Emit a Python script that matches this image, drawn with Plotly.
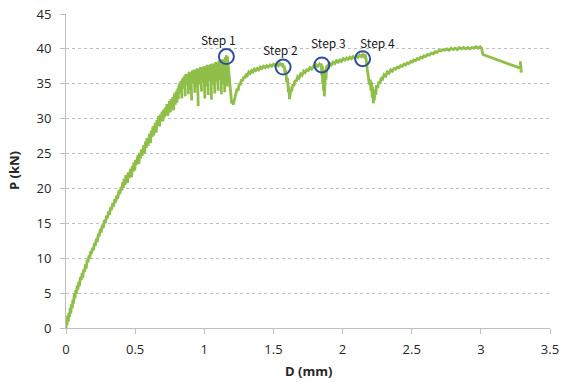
import plotly.graph_objects as go

# Load-displacement record, split into test stages: D in mm, P in kN
D_elastic = [
    0.000, 0.004, 0.007, 0.012, 0.016, 0.021, 0.026, 0.031, 0.035, 0.040, 0.045, 0.050, 0.054, 0.060, 0.064,
    0.070, 0.075, 0.081, 0.086, 0.092, 0.097, 0.104, 0.110, 0.117, 0.121, 0.128, 0.134, 0.141, 0.146, 0.153,
    0.159, 0.166, 0.171, 0.178, 0.184, 0.192, 0.198, 0.206, 0.212, 0.220, 0.226, 0.234, 0.240, 0.248, 0.254,
    0.263, 0.269, 0.278, 0.284, 0.293, 0.299, 0.308, 0.314, 0.323, 0.329, 0.338, 0.344, 0.353, 0.359, 0.368,
    0.374, 0.383, 0.389, 0.398, 0.404,
]
P_elastic = [
    0.0, 1.3, 0.4, 1.8, 0.9, 2.2, 1.6, 2.9, 2.1, 3.4, 2.8, 4.1, 3.5, 4.9, 4.2,
    5.4, 4.9, 6.1, 5.5, 6.6, 6.0, 7.3, 6.9, 7.9, 7.2, 8.4, 8.0, 9.1, 8.5, 9.8,
    9.4, 10.4, 9.9, 11.0, 10.6, 11.5, 11.1, 12.2, 11.8, 12.8, 12.3, 13.5, 13.1, 14.2, 13.7,
    14.8, 14.3, 15.5, 15.0, 16.1, 15.7, 16.7, 16.2, 17.3, 16.9, 17.9, 17.4, 18.5, 18.0, 19.0,
    18.5, 19.7, 19.2, 20.2, 19.7,
]

D_rise = [
    0.410, 0.415, 0.421, 0.428, 0.433, 0.437, 0.444, 0.450, 0.456, 0.461, 0.467, 0.474, 0.479, 0.486, 0.490,
    0.497, 0.503, 0.509, 0.514, 0.521, 0.527, 0.532, 0.539, 0.545, 0.550, 0.556, 0.563, 0.568, 0.575, 0.580,
    0.586, 0.593, 0.598, 0.604, 0.611, 0.616, 0.622, 0.629, 0.634, 0.640, 0.646, 0.652, 0.658, 0.664, 0.670,
    0.676, 0.682, 0.688, 0.694, 0.700, 0.706, 0.712, 0.718, 0.724, 0.730, 0.736, 0.742, 0.748, 0.754, 0.760,
    0.766, 0.772, 0.778, 0.784, 0.790, 0.796, 0.802,
]
P_rise = [
    20.9, 20.1, 21.4, 20.5, 21.9, 21.2, 20.8, 22.3, 21.5, 22.0, 22.8, 21.6, 23.2, 22.4, 23.7,
    22.6, 24.1, 23.4, 24.0, 24.8, 23.5, 25.1, 24.3, 25.6, 24.7, 25.3, 26.2, 25.0, 26.7, 25.8,
    27.2, 26.1, 27.0, 27.8, 26.5, 28.3, 27.4, 28.9, 27.6, 28.5, 29.4, 28.0, 29.8, 29.0, 30.4,
    28.9, 30.6, 29.7, 31.0, 29.6, 31.3, 30.2, 31.6, 30.5, 32.1, 30.4, 31.8, 32.5, 30.9, 32.8,
    31.5, 33.1, 31.2, 33.6, 32.0, 33.9, 32.3,
]

# Unstable zone up to Step 1 (load drops with slight rebound in D)
D_step1 = [
    0.808, 0.814, 0.811, 0.820, 0.826, 0.822, 0.832, 0.838, 0.834, 0.845, 0.850, 0.847, 0.857, 0.862, 0.858,
    0.868, 0.874, 0.870, 0.880, 0.885, 0.881, 0.892, 0.897, 0.893, 0.903, 0.909, 0.905, 0.915, 0.921, 0.917,
    0.927, 0.932, 0.928, 0.938, 0.944, 0.940, 0.950, 0.956, 0.952, 0.962, 0.968, 0.964, 0.974, 0.980, 0.976,
    0.986, 0.992, 0.988, 0.998, 1.004, 1.000, 1.010, 1.016, 1.012, 1.022, 1.028, 1.024, 1.034, 1.040, 1.036,
    1.046, 1.052, 1.048, 1.058, 1.064, 1.060, 1.070, 1.076, 1.072, 1.082, 1.088, 1.084, 1.094, 1.100, 1.096,
    1.106, 1.112, 1.108, 1.118, 1.124, 1.120, 1.130, 1.136, 1.132, 1.142, 1.148, 1.144, 1.152, 1.157, 1.154,
    1.160, 1.164, 1.161, 1.167, 1.170,
]
P_step1 = [
    34.3, 32.8, 33.9, 35.0, 33.6, 34.4, 35.4, 32.9, 34.8, 35.8, 34.3, 35.1, 36.1, 33.2, 35.5,
    36.4, 34.8, 35.6, 36.2, 33.5, 35.9, 36.7, 34.1, 36.0, 36.5, 32.6, 35.4, 36.9, 35.0, 36.3,
    37.0, 33.7, 36.1, 36.8, 34.5, 36.4, 37.2, 31.8, 35.6, 37.1, 34.9, 36.5, 37.4, 33.9, 36.8,
    37.3, 35.2, 36.6, 37.5, 32.9, 36.2, 37.4, 34.6, 36.9, 37.7, 33.4, 36.4, 37.6, 35.4, 37.0,
    37.8, 32.7, 36.1, 37.9, 34.8, 37.2, 37.7, 33.6, 36.7, 38.1, 35.3, 37.4, 38.0, 34.0, 37.0,
    38.3, 35.6, 37.5, 38.2, 33.5, 36.9, 38.5, 34.9, 37.7, 38.4, 33.8, 37.2, 38.8, 35.2, 38.0,
    39.1, 34.6, 38.2, 38.9, 38.3,
]

D_step2 = [
    1.178, 1.185, 1.192, 1.198, 1.204, 1.210, 1.215, 1.222,
    1.230, 1.238, 1.245, 1.252, 1.260, 1.268, 1.276, 1.285, 1.294, 1.303, 1.312, 1.322, 1.332, 1.342, 1.352,
    1.362, 1.372, 1.383, 1.394, 1.405, 1.416, 1.428, 1.440, 1.452, 1.464, 1.476, 1.488, 1.500, 1.512, 1.524,
    1.536, 1.548, 1.558, 1.566, 1.572, 1.578, 1.584, 1.590, 1.596, 1.602, 1.608, 1.612, 1.616, 1.620,
]
P_step2 = [
    36.0, 34.5, 33.2, 32.2, 32.6, 32.0, 32.5, 33.1,
    33.5, 34.3, 34.0, 35.0, 34.8, 35.6, 35.4, 36.0, 35.8, 36.4, 36.2, 36.7, 36.5, 36.9, 36.7,
    37.1, 36.9, 37.2, 37.0, 37.4, 37.2, 37.5, 37.3, 37.6, 37.4, 37.7, 37.5, 37.8, 37.6, 37.9,
    37.6, 37.9, 37.7, 37.9, 37.3, 37.6, 36.5, 37.0, 35.2, 35.8, 33.8, 34.6, 32.8, 33.6,
]

D_step3 = [
    1.626, 1.632, 1.640, 1.648, 1.656, 1.665, 1.675, 1.685, 1.696, 1.707, 1.718, 1.729, 1.740, 1.752, 1.764,
    1.776, 1.788, 1.800, 1.812, 1.822, 1.832, 1.840, 1.846,
    1.850, 1.853, 1.856, 1.859, 1.862, 1.865, 1.868, 1.871, 1.874, 1.877, 1.880, 1.884,
]
P_step3 = [
    34.2, 33.9, 34.9, 34.7, 35.5, 35.3, 36.0, 35.8, 36.4, 36.2, 36.8, 36.6, 37.0, 36.9, 37.3,
    37.1, 37.5, 37.3, 37.7, 37.5, 37.8, 37.6, 37.9,
    36.2, 37.6, 35.0, 37.2, 34.0, 36.8, 33.2, 36.0, 34.5, 37.0, 35.6, 37.4,
]

D_step4 = [
    1.892, 1.900, 1.910, 1.920, 1.932, 1.944, 1.956, 1.968, 1.980, 1.992, 2.004, 2.016, 2.028, 2.040, 2.052,
    2.064, 2.076, 2.088, 2.100, 2.112, 2.124, 2.136, 2.146, 2.156, 2.164, 2.170,
    2.178, 2.186, 2.194, 2.200, 2.205, 2.210, 2.214, 2.218, 2.222, 2.226, 2.230, 2.234, 2.240, 2.246,
]
P_step4 = [
    37.6, 37.4, 37.9, 37.7, 38.1, 37.9, 38.3, 38.1, 38.4, 38.2, 38.6, 38.4, 38.7, 38.5, 38.8,
    38.6, 38.9, 38.7, 39.0, 38.8, 39.1, 38.9, 39.2, 38.9, 39.2, 38.6,
    37.2, 35.8, 34.9, 35.6, 34.0, 35.2, 33.0, 34.6, 32.2, 33.8, 32.6, 34.2, 33.4, 34.8,
]

D_final = [
    2.254, 2.262, 2.270, 2.280, 2.290, 2.300, 2.312, 2.324, 2.336, 2.348, 2.360, 2.372, 2.384, 2.396, 2.408,
    2.420, 2.432, 2.444, 2.456, 2.468, 2.480, 2.492, 2.504, 2.516, 2.528, 2.540, 2.552, 2.564, 2.576, 2.588,
    2.600, 2.614, 2.628, 2.642, 2.656, 2.670, 2.684, 2.698, 2.712, 2.726, 2.740, 2.755, 2.770, 2.785, 2.800,
    2.815, 2.830, 2.845, 2.860, 2.875, 2.890, 2.905, 2.920, 2.935, 2.950, 2.965, 2.980, 2.995, 3.005, 3.015,
    3.290, 3.285, 3.292, 3.288, 3.295, 3.290,
]
P_final = [
    34.4, 35.3, 35.0, 35.9, 35.7, 36.3, 36.1, 36.7, 36.5, 37.0, 36.8, 37.2, 37.1, 37.4, 37.3,
    37.6, 37.5, 37.8, 37.7, 38.0, 37.9, 38.2, 38.1, 38.4, 38.3, 38.6, 38.5, 38.8, 38.7, 39.0,
    38.9, 39.2, 39.1, 39.4, 39.3, 39.6, 39.5, 39.8, 39.7, 39.9, 39.8, 40.0, 39.8, 40.1, 39.9,
    40.1, 39.9, 40.2, 40.0, 40.2, 40.0, 40.2, 40.0, 40.2, 40.1, 40.3, 40.1, 40.3, 40.1, 39.2,
    37.2, 38.2, 36.6, 37.8, 36.9, 37.4,
]

stages = [
    (D_elastic, P_elastic), (D_rise, P_rise), (D_step1, P_step1), (D_step2, P_step2),
    (D_step3, P_step3), (D_step4, P_step4), (D_final, P_final),
]
D_mm, P_kN = [], []
for d, p in stages:
    assert len(d) == len(p)
    D_mm += d
    P_kN += p

# Marked load steps
step_labels = ["Step 1", "Step 2", "Step 3", "Step 4"]
step_D = [1.16, 1.57, 1.85, 2.145]
step_P = [38.9, 37.4, 37.7, 38.6]
label_D = [1.10, 1.55, 1.90, 2.25]
label_P = [41.4, 39.9, 40.9, 40.9]

x_ticks = [0, 0.5, 1, 1.5, 2, 2.5, 3, 3.5]
y_ticks = [0, 5, 10, 15, 20, 25, 30, 35, 40, 45]

GREEN = "#8fbf48"
BLUE = "#2f4f99"
AXIS = "#bfbfbf"
TEXT = "#262626"

fig = go.Figure()

fig.add_trace(go.Scatter(
    x=D_mm, y=P_kN, mode="lines",
    line=dict(color=GREEN, width=2.8),
    showlegend=False, hoverinfo="skip",
))

fig.add_trace(go.Scatter(
    x=step_D, y=step_P, mode="markers",
    marker=dict(symbol="circle-open", size=15, color=BLUE, line=dict(color=BLUE, width=2)),
    showlegend=False, hoverinfo="skip",
))

for lab, xd, yd in zip(step_labels, label_D, label_P):
    fig.add_annotation(
        x=xd, y=yd, xref="x", yref="y", text=lab, showarrow=False,
        font=dict(family="Noto Sans CJK KR, DejaVu Sans", size=12, color="#1a1a1a"),
    )

fig.add_annotation(
    x=0, y=0.5, xref="paper", yref="paper", xshift=-52, text="<b>P (kN)</b>",
    textangle=-90, showarrow=False, xanchor="center", yanchor="middle",
    font=dict(family="Open Sans", size=13, color=TEXT),
)
fig.add_annotation(
    x=0.5, y=0, xref="paper", yref="paper", yshift=-43, text="<b>D (mm)</b>",
    showarrow=False, xanchor="center", yanchor="middle",
    font=dict(family="Open Sans", size=13, color=TEXT),
)

fig.update_xaxes(
    range=[0, 3.5], tickvals=x_ticks, ticktext=[f"{v:g}" for v in x_ticks],
    showgrid=False, zeroline=False, automargin=False,
    showline=True, linecolor=AXIS, linewidth=1,
    ticks="outside", ticklen=5, tickcolor=AXIS, tickwidth=1,
    tickfont=dict(family="Open Sans", size=13, color=TEXT),
    ticklabelstandoff=4,
)
fig.update_yaxes(
    range=[0, 45], tickvals=y_ticks,
    showgrid=True, gridcolor=AXIS, griddash="dot", gridwidth=1,
    zeroline=False, automargin=False,
    showline=True, linecolor=AXIS, linewidth=1,
    ticks="outside", ticklen=5, tickcolor=AXIS, tickwidth=1,
    tickfont=dict(family="Open Sans", size=13, color=TEXT),
    ticklabelstandoff=6,
)

fig.update_layout(
    width=562, height=382,
    margin=dict(l=66, r=12, t=14, b=54),
    paper_bgcolor="white", plot_bgcolor="white",
)

fig.write_html("out.html")
